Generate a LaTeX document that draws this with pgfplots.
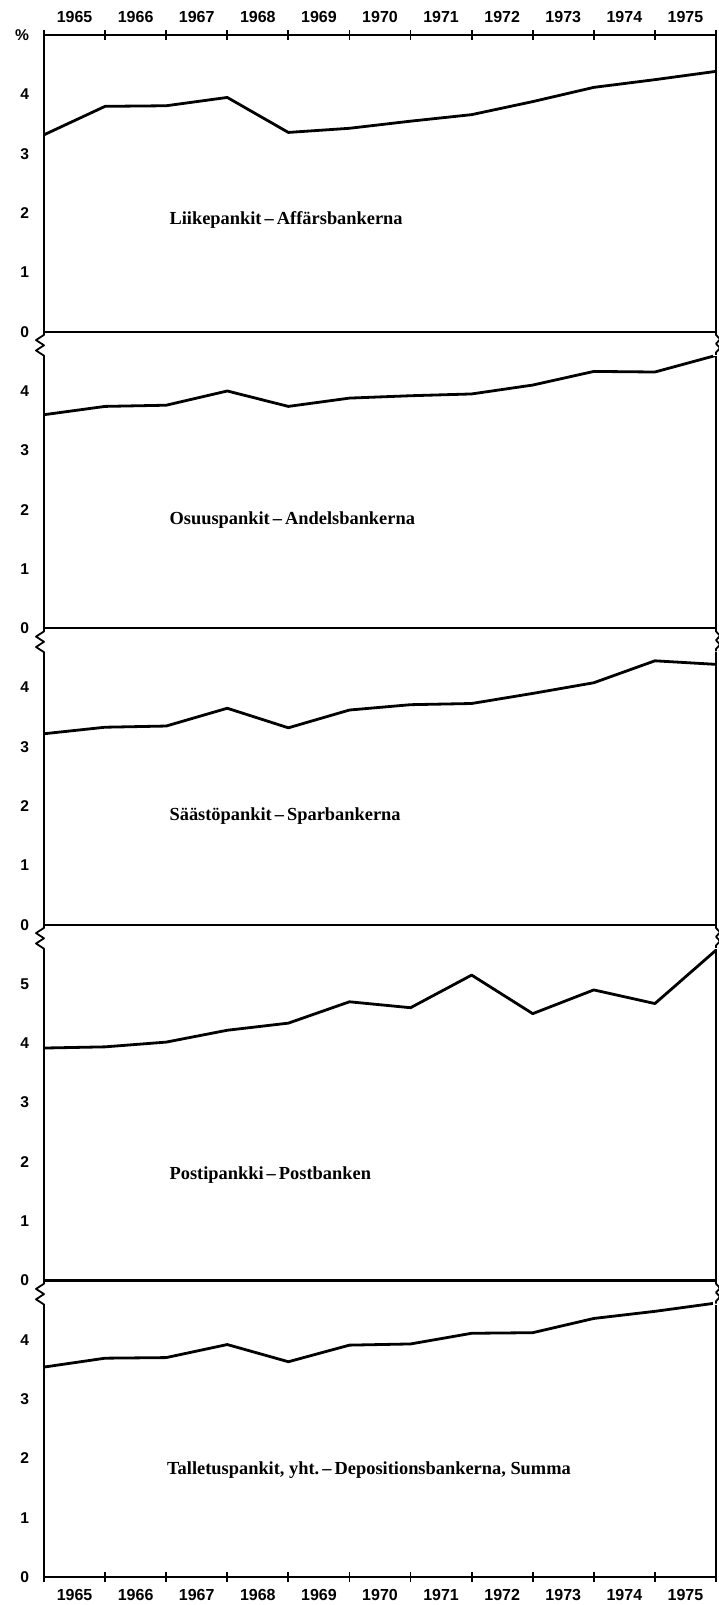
\documentclass[border=0pt]{standalone}
\usepackage{fontspec}
\setmainfont{Liberation Serif}
\setsansfont{Liberation Sans}
\usepackage{pgfplots}
\usepackage{pgfplotstable}
\pgfplotsset{compat=1.18}

\pgfplotstableread{
x y
0 3.32
1 3.80
2 3.81
3 3.95
4 3.36
5 3.43
6 3.55
7 3.66
8 3.88
9 4.12
10 4.25
11 4.39
}\dataA
\pgfplotstableread{
x y
0 3.60
1 3.74
2 3.76
3 4.00
4 3.74
5 3.88
6 3.92
7 3.95
8 4.10
9 4.33
10 4.32
11 4.60
}\dataB
\pgfplotstableread{
x y
0 3.22
1 3.33
2 3.35
3 3.65
4 3.32
5 3.62
6 3.71
7 3.73
8 3.90
9 4.08
10 4.45
11 4.39
}\dataC
\pgfplotstableread{
x y
0 3.92
1 3.94
2 4.02
3 4.22
4 4.34
5 4.70
6 4.60
7 5.15
8 4.50
9 4.90
10 4.67
11 5.57
}\dataD
\pgfplotstableread{
x y
0 3.54
1 3.69
2 3.70
3 3.92
4 3.63
5 3.91
6 3.93
7 4.11
8 4.12
9 4.36
10 4.48
11 4.62
}\dataE

\pgfplotsset{
  panel/.style={
    scale only axis, width=336pt, xmin=0, xmax=11, ymin=0,
    axis line style={line width=1.1pt},
    every tick/.style={line width=0.9pt, black},
    tick align=center, major tick length=5pt,
    ytick style={draw=none},
    ytick pos=left,
    yticklabel style={font=\sffamily\bfseries\fontsize{7.8}{9}\selectfont, xshift=-1.5pt},
    xticklabel style={font=\sffamily\bfseries\fontsize{8}{9}\selectfont},
    xtick={0,...,11},
    x tick label as interval,
    xticklabels={1965,1966,1967,1968,1969,1970,1971,1972,1973,1974,1975},
  },
  series/.style={black, line width=1.4pt, mark=none, line join=round},
}
\tikzset{lbl/.style={anchor=west, font=\bfseries\fontsize{9.2}{11}\selectfont}}

\newcommand{\brk}[1]{%
  \fill[white] ([xshift=-1.5pt,yshift=-1.2pt]#1.north west) rectangle ([xshift=1.5pt,yshift=-13pt]#1.north west);
  \draw[line width=0.9pt, line join=round] ([yshift=-0.6pt]#1.north west) -- ++(0,-1pt) -- ++(-4pt,-2.6pt) -- ++(4pt,-2.6pt) -- ++(-4pt,-2.6pt) -- ++(4pt,-2.6pt) -- ++(0,-1.2pt);
  \fill[white] ([xshift=-1.5pt,yshift=-1.2pt]#1.north east) rectangle ([xshift=1.5pt,yshift=-12pt]#1.north east);
  \draw[line width=0.9pt, line join=round] ([yshift=-0.6pt]#1.north east) -- ++(0,-1pt) -- ++(2pt,-2.2pt) -- ++(-2pt,-2.2pt) -- ++(2pt,-2.2pt) -- ++(-2pt,-2.2pt) -- ++(0,-1.2pt);
}

\begin{document}
\begin{tikzpicture}
\path[use as bounding box] (-22pt,-14pt) rectangle (337pt,788.5pt);

% Panel 5 (bottom)
\begin{axis}[panel, name=p5, at={(0pt,0pt)}, anchor=south west,
  height=148.25pt, ymax=5,
  xtick pos=left, xticklabel pos=left,
  ytick={0,1,2,3,4}, yticklabels={0,1,2,3,4}]
  \addplot[series] table[x=x,y=y] {\dataE};
  \node[lbl] at (axis cs:1.9,1.80) {Talletuspankit, yht.\,–\,Depositionsbankerna, Summa};
\end{axis}

% Panel 4
\begin{axis}[panel, name=p4, at={(0pt,148.25pt)}, anchor=south west,
  height=177.9pt, ymax=6,
  xtick=\empty,
  ytick={0,1,2,3,4,5}, yticklabels={0,1,2,3,4,5}]
  \addplot[series] table[x=x,y=y] {\dataD};
  \node[lbl] at (axis cs:1.94,1.78) {Postipankki\,–\,Postbanken};
\end{axis}

% Panel 3
\begin{axis}[panel, name=p3, at={(0pt,326.15pt)}, anchor=south west,
  height=148.25pt, ymax=5,
  xtick=\empty,
  ytick={0,1,2,3,4}, yticklabels={0,1,2,3,4}]
  \addplot[series] table[x=x,y=y] {\dataC};
  \node[lbl] at (axis cs:1.94,1.83) {Säästöpankit\,–\,Sparbankerna};
\end{axis}

% Panel 2
\begin{axis}[panel, name=p2, at={(0pt,474.4pt)}, anchor=south west,
  height=148.25pt, ymax=5,
  xtick=\empty,
  ytick={0,1,2,3,4}, yticklabels={0,1,2,3,4}]
  \addplot[series] table[x=x,y=y] {\dataB};
  \node[lbl] at (axis cs:1.94,1.82) {Osuuspankit\,–\,Andelsbankerna};
\end{axis}

% Panel 1 (top)
\begin{axis}[panel, name=p1, at={(0pt,622.65pt)}, anchor=south west,
  height=148.25pt, ymax=5,
  xtick pos=right, xticklabel pos=right,
  ytick={0,1,2,3,4,5}, yticklabels={0,1,2,3,4,\%}]
  \addplot[series] table[x=x,y=y] {\dataA};
  \node[lbl] at (axis cs:1.94,1.88) {Liikepankit\,–\,Affärsbankerna};
\end{axis}

\brk{p2}
\brk{p3}
\brk{p4}
\brk{p5}
\end{tikzpicture}
\end{document}
